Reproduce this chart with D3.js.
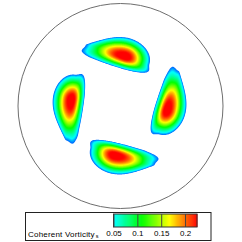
<!DOCTYPE html>
<html>
<head>
<meta charset="utf-8">
<script src="https://cdn.jsdelivr.net/npm/d3@7"></script>
<style>
  body { margin: 0; background: #fff; }
  svg { display: block; }
  text { font-family: "Liberation Sans", Arial, sans-serif; }
</style>
</head>
<body>
<div id="chart"></div>
<script>
// Vortex cores, in pipe radii (y up): peak position, outward axis angle (deg), peak value
var blobX = [0.044, 0.451, -0.054, -0.476];
var blobY = [0.481, -0.039, -0.478, 0.059];
var blobAngle = [73.4, -16.8, -103.8, 172.3];
var blobPeak = [0.235, 0.235, 0.235, 0.235];
// core spread (pipe radii): along the wall leading / trailing, across inner / outer
var spreadLead = 0.19, spreadTrail = 0.305, spreadIn = 0.092, spreadOut = 0.141;
// how flat the side facing the pipe centre is (pipe radii)
var innerFlat = 0.086;

var cutoff = 0.033;
var legendRange = [0.05, 0.225];
var legendTicks = [0.05, 0.1, 0.15, 0.2];
var legendTitle = "Coherent Vorticity";
var legendSub = "s";

function init() {
    var w = 242, h = 242;
    var cx = 120.5, cy = 106, R = 102.5;
    var n = 240;

    var svg = d3.select("#chart").append("svg")
        .attr("width", w)
        .attr("height", h);

    // pipe coordinates -> pixels
    var x = d3.scaleLinear().domain([-1, 1]).range([cx - R, cx + R]);
    var y = d3.scaleLinear().domain([-1, 1]).range([cy + R, cy - R]);
    // grid index -> pipe coordinates
    var gx = d3.scaleLinear().domain([0, n]).range([-1, 1]);
    var gy = d3.scaleLinear().domain([0, n]).range([1, -1]);

    // hue: blue at the cut-off, cyan at 0.05, red at the top of the bar
    var hue = d3.scaleLinear()
        .domain([cutoff, legendRange[0], legendRange[1]])
        .range([218, 180, 0])
        .clamp(true);
    function color(v) { return d3.hsl(hue(v), 1, 0.5).toString(); }

    // sample the field on a grid
    var values = new Float64Array(n * n);
    for (var j = 0; j < n; j++) {
        for (var i = 0; i < n; i++) {
            var px = gx(i + 0.5), py = gy(j + 0.5);
            var v = 0;
            for (var b = 0; b < blobX.length; b++) {
                var a = blobAngle[b] * Math.PI / 180;
                var nx = Math.cos(a), ny = Math.sin(a);
                var dx = px - blobX[b], dy = py - blobY[b];
                var nr = dx * nx + dy * ny;      // across (outward +)
                var tg = dx * ny - dy * nx;      // along the wall
                var tn = tg / (tg < 0 ? spreadTrail : spreadLead);
                var taper = tg < 0 ? Math.max(0.12, 1 - 0.43 * tn * tn) : 1;
                var nn, st = 1;
                if (nr < 0) {
                    nn = nr / spreadIn;
                    st = 1 / (1 + (nr / innerFlat) * (nr / innerFlat));
                } else {
                    nn = nr / (spreadOut * taper);
                }
                v += blobPeak[b] * Math.exp(-Math.pow(tn * tn * st + nn * nn, 1.25));
            }
            values[j * n + i] = v;
        }
    }

    var step = 0.004;
    var levels = d3.range(cutoff, 0.235, step);
    var contours = d3.contours().size([n, n]).thresholds(levels)(values);

    var path = d3.geoPath(d3.geoTransform({
        point: function (px, py) { this.stream.point(x(gx(px)), y(gy(py))); }
    }));

    svg.append("g")
        .selectAll("path")
        .data(contours)
        .enter()
        .append("path")
        .attr("d", path)
        .attr("fill", function (d) { return color(d.value + step / 2); });

    // pipe wall
    svg.append("circle")
        .attr("cx", x(0))
        .attr("cy", y(0))
        .attr("r", x(1) - x(0))
        .attr("fill", "none")
        .attr("stroke", "#6e6e6e")
        .attr("stroke-width", 1);

    // legend box
    var lg = svg.append("g");
    lg.append("rect")
        .attr("x", 25.5).attr("y", 212.5)
        .attr("width", 185.5).attr("height", 28)
        .attr("fill", "#fff")
        .attr("stroke", "#222")
        .attr("stroke-width", 1);

    var barX = d3.scaleLinear().domain(legendRange).range([113.5, 197]);
    var barTop = 214, barH = 13;

    lg.append("g")
        .selectAll("rect")
        .data(d3.range(legendRange[0], legendRange[1], 0.001))
        .enter()
        .append("rect")
        .attr("x", function (d) { return barX(d); })
        .attr("y", barTop)
        .attr("width", barX(0.0015) - barX(0) + 0.3)
        .attr("height", barH)
        .attr("fill", function (d) { return color(d); });

    lg.append("rect")
        .attr("x", barX(legendRange[0])).attr("y", barTop)
        .attr("width", barX(legendRange[1]) - barX(legendRange[0]))
        .attr("height", barH)
        .attr("fill", "none")
        .attr("stroke", "#333")
        .attr("stroke-width", 1);

    var axis = d3.axisBottom(barX)
        .tickValues(legendTicks)
        .tickFormat(function (d) { return String(d); })
        .tickSizeInner(-barH)
        .tickSizeOuter(0)
        .tickPadding(3.5);

    var ax = lg.append("g")
        .attr("transform", "translate(0," + (barTop + barH) + ")")
        .call(axis);
    ax.select(".domain").remove();
    ax.selectAll(".tick line").attr("stroke", "#444");
    ax.selectAll(".tick text")
        .attr("font-family", "Liberation Sans, Arial, sans-serif")
        .attr("font-size", 8)
        .attr("fill", "#000");

    var title = lg.append("text")
        .attr("x", 28)
        .attr("y", 236.7)
        .attr("font-size", 8)
        .attr("letter-spacing", 0.2)
        .attr("fill", "#000")
        .text(legendTitle);
    title.append("tspan")
        .attr("font-size", 5.5)
        .attr("dx", 1)
        .attr("dy", 1)
        .text(legendSub);
}
window.onload = init;
</script>
</body>
</html>
